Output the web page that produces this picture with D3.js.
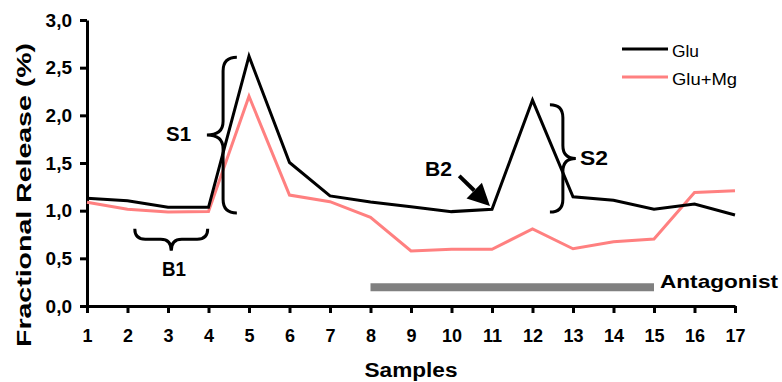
<!DOCTYPE html>
<html>
<head>
<meta charset="utf-8">
<script src="https://cdn.jsdelivr.net/npm/d3@7"></script>
<style>
  body { margin: 0; background: #fff; }
  svg { display: block; font-family: Arial, 'Liberation Sans', sans-serif; }
</style>
</head>
<body>
<svg id="chart" width="782" height="382"></svg>
<script>
const samples = d3.range(1, 18)
const glu = [1.13, 1.105, 1.035, 1.035, 2.62, 1.505, 1.155, 1.09, 1.04, 0.99, 1.015, 2.16, 1.145, 1.11, 1.015, 1.07, 0.955]
const gluMg = [1.088, 1.015, 0.985, 0.99, 2.2, 1.164, 1.094, 0.93, 0.577, 0.595, 0.595, 0.808, 0.6, 0.675, 0.703, 1.19, 1.21]
const yTicks = [0, 0.5, 1, 1.5, 2, 2.5, 3]
const seriesNames = ['Glu', 'Glu+Mg']
const seriesColors = ['#000000', '#ff8080']
// antagonist application: samples 8..15
const antagonist = [8, 15, 0.196]

const W = 782
const H = 382
const margin = { top: 20, right: 47, bottom: 76, left: 87 }

const svg = d3.select('#chart')
const x = d3.scaleLinear().domain([1, 17]).range([margin.left, W - margin.right])
const y = d3.scaleLinear().domain([0, 3]).range([H - margin.bottom, margin.top])

const fmt = d => d3.format('.1f')(d).replace('.', ',')

// text with a fixed width, the original font runs wide
function label (px, py, str, size, len, opts = {}) {
  const t = svg.append('text')
    .attr('x', px).attr('y', py)
    .attr('font-size', size)
    .attr('font-weight', opts.normal ? 'normal' : 'bold')
    .attr('text-anchor', opts.anchor || 'start')
    .text(str)
  if (len) t.attr('textLength', len).attr('lengthAdjust', 'spacingAndGlyphs')
  if (opts.transform) t.attr('transform', opts.transform)
  return t
}

// axes
const xAxis = svg.append('g')
  .attr('transform', `translate(0, ${y(0)})`)
  .call(d3.axisBottom(x).tickValues(samples).tickSize(7).tickSizeOuter(0).tickPadding(16).tickFormat(d3.format('d')))
xAxis.select('.domain').attr('stroke-width', 3)
xAxis.selectAll('.tick line').attr('stroke-width', 3)
xAxis.selectAll('.tick text')
  .attr('font-size', 18).attr('font-weight', 'bold').attr('font-family', null)

const yAxis = svg.append('g')
  .attr('transform', `translate(${x(1)}, 0)`)
  .call(d3.axisLeft(y).tickValues(yTicks).tickSize(7).tickSizeOuter(0).tickPadding(8).tickFormat(fmt))
yAxis.select('.domain').attr('stroke-width', 3)
yAxis.selectAll('.tick line').attr('stroke-width', 3)
yAxis.selectAll('.tick text')
  .attr('font-size', 19).attr('font-weight', 'bold').attr('font-family', null)

label((x(1) + x(17)) / 2, 377, 'Samples', 20, 93, { anchor: 'middle' })
label(0, 0, 'Fractional Release (%)', 21, 304, { anchor: 'middle', transform: 'translate(31, 195) rotate(-90)' })

// antagonist bar
svg.append('line')
  .attr('x1', x(antagonist[0])).attr('x2', x(antagonist[1]))
  .attr('y1', y(antagonist[2])).attr('y2', y(antagonist[2]))
  .attr('stroke', '#808080').attr('stroke-width', 8)
label(x(antagonist[1]) + 6, 288, 'Antagonist', 19, 118)

// lines
const line = d3.line().x((d, i) => x(samples[i])).y(d => y(d))
;[gluMg, glu].forEach((s, k) => {
  svg.append('path')
    .datum(s)
    .attr('fill', 'none')
    .attr('stroke', seriesColors[1 - k])
    .attr('stroke-width', 3)
    .attr('d', line)
})

// legend
const legendLens = [27, 65]
seriesNames.forEach((n, i) => {
  const ly = 49 + i * 28
  svg.append('line')
    .attr('x1', 622).attr('x2', 668).attr('y1', ly).attr('y2', ly)
    .attr('stroke', seriesColors[i]).attr('stroke-width', 3)
  label(672, ly + 8, n, 17, legendLens[i], { normal: true })
})

// braces
function vBrace (xEnd, xSpine, xTip, y0, y1) {
  const ym = (y0 + y1) / 2
  const r = Math.abs(xEnd - xSpine)
  const p = d3.path()
  p.moveTo(xEnd, y0)
  p.quadraticCurveTo(xSpine, y0, xSpine, y0 + r)
  p.lineTo(xSpine, ym - r)
  p.quadraticCurveTo(xSpine, ym, xTip, ym)
  p.quadraticCurveTo(xSpine, ym, xSpine, ym + r)
  p.lineTo(xSpine, y1 - r)
  p.quadraticCurveTo(xSpine, y1, xEnd, y1)
  return p.toString()
}
function hBrace (yEnd, ySpine, yTip, x0, x1) {
  const xm = (x0 + x1) / 2
  const r = Math.abs(yEnd - ySpine)
  const p = d3.path()
  p.moveTo(x0, yEnd)
  p.quadraticCurveTo(x0, ySpine, x0 + r, ySpine)
  p.lineTo(xm - r, ySpine)
  p.quadraticCurveTo(xm, ySpine, xm, yTip)
  p.quadraticCurveTo(xm, ySpine, xm + r, ySpine)
  p.lineTo(x1 - r, ySpine)
  p.quadraticCurveTo(x1, ySpine, x1, yEnd)
  return p.toString()
}
const braceStyle = sel => sel.attr('fill', 'none').attr('stroke', '#000').attr('stroke-width', 3)

// S1
svg.append('path').call(braceStyle)
  .attr('d', vBrace(x(4.7), x(4.36), x(3.96), y(2.61), y(0.975)))
label(166, 141, 'S1', 21, 25)

// B1
svg.append('path').call(braceStyle)
  .attr('d', hBrace(y(0.81), y(0.7), y(0.58), x(2.18), x(3.98)))
label(162, 276, 'B1', 21, 24)

// S2
svg.append('path').call(braceStyle)
  .attr('d', vBrace(x(12.43), x(12.75), x(13.07), y(2.11), y(0.985)))
label(580, 165, 'S2', 21, 28)

// B2 arrow
label(425, 176, 'B2', 21, 27)
const a0 = [x(10.19), y(1.365)]
const a1 = [x(10.95), y(1.05)]
const ang = Math.atan2(a1[1] - a0[1], a1[0] - a0[0])
const headLen = 22
const headW = 11
const base = [a1[0] - headLen * Math.cos(ang), a1[1] - headLen * Math.sin(ang)]
svg.append('line')
  .attr('x1', a0[0]).attr('y1', a0[1]).attr('x2', base[0]).attr('y2', base[1])
  .attr('stroke', '#000').attr('stroke-width', 4)
svg.append('path')
  .attr('d', d3.line()([
    a1,
    [base[0] + headW * Math.sin(ang), base[1] - headW * Math.cos(ang)],
    [base[0] - headW * Math.sin(ang), base[1] + headW * Math.cos(ang)]
  ]) + 'Z')
  .attr('fill', '#000')
</script>
</body>
</html>
